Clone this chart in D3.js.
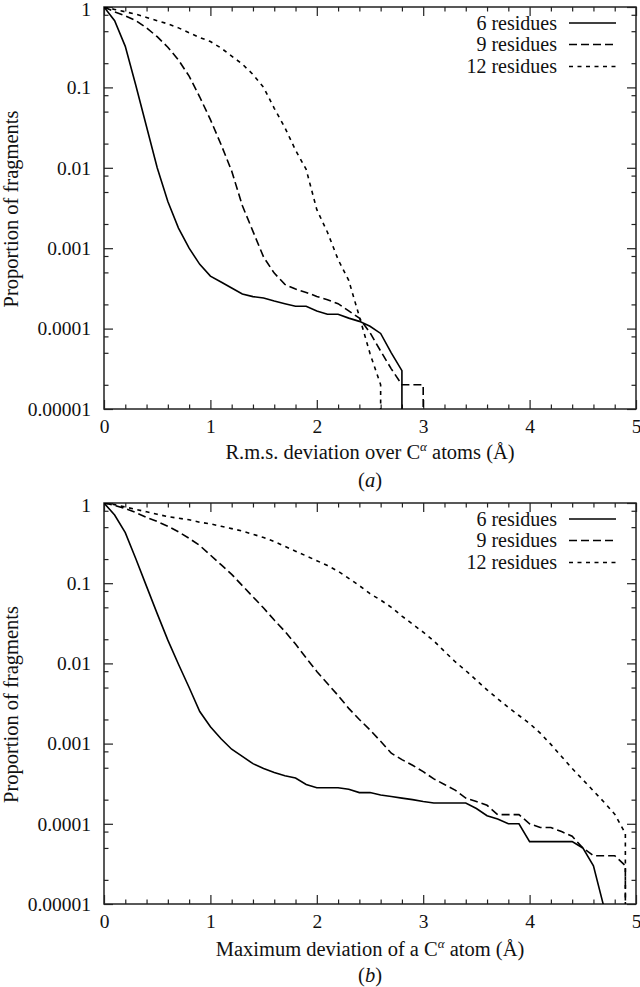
<!DOCTYPE html>
<html>
<head>
<meta charset="utf-8">
<script src="https://cdn.jsdelivr.net/npm/d3@7"></script>
<style>
  body { margin: 0; background: #fff; }
  text { font-family: "Liberation Serif", "Times New Roman", serif; fill: #111; }
</style>
</head>
<body>
<div id="chart"></div>
<script>
// x positions (Å) for each panel
const xTopA = [0, 0.1, 0.2, 0.3, 0.4, 0.5, 0.6, 0.7, 0.8, 0.9, 1.0, 1.1, 1.2, 1.3, 1.4, 1.5,
  1.6, 1.7, 1.8, 1.9, 2.0, 2.1, 2.2, 2.3, 2.4, 2.5, 2.6, 2.7, 2.8, 2.9, 3.0, 3.1];
const xTopB = [0, 0.1, 0.2, 0.3, 0.4, 0.5, 0.6, 0.7, 0.8, 0.9, 1.0, 1.1, 1.2, 1.3, 1.4, 1.5,
  1.6, 1.7, 1.8, 1.9, 2.0, 2.1, 2.2, 2.3, 2.4, 2.5, 2.6, 2.7, 2.8, 2.9, 3.0, 3.1, 3.2, 3.3,
  3.4, 3.5, 3.6, 3.7, 3.8, 3.9, 4.0, 4.1, 4.2, 4.3, 4.4, 4.5, 4.6, 4.7, 4.8, 4.9, 5.0];

// (a) r.m.s. deviation
const res6A = [1, 0.676, 0.324, 0.105, 0.0324, 0.0100, 0.0038, 0.00178, 0.00100, 0.00063,
  0.00045, 0.00038, 0.00032, 0.00027, 0.00025, 0.00024, 0.00022, 0.000204, 0.00019, 0.00019,
  0.000166, 0.000151, 0.000151, 0.000135, 0.000123, 0.000107, 0.000087, 0.00005, 0.00003, 0, 0, 0];
const res9A = [1, 0.871, 0.776, 0.676, 0.550, 0.427, 0.316, 0.219, 0.138, 0.0759,
  0.0398, 0.0195, 0.00912, 0.00339, 0.00162, 0.000776, 0.00049, 0.000355, 0.00031, 0.000282,
  0.000251, 0.000229, 0.000204, 0.000166, 0.000135, 0.000089, 0.0000525, 0.0000316, 0.00002,
  0.00002, 0.00002, 0];
const res12A = [1, 0.933, 0.871, 0.813, 0.741, 0.676, 0.617, 0.550, 0.479, 0.417,
  0.372, 0.309, 0.245, 0.195, 0.145, 0.100, 0.055, 0.0316, 0.0166, 0.00955,
  0.00302, 0.00158, 0.000724, 0.000398, 0.000141, 0.000049, 0.00002, 0, 0, 0, 0, 0];

// (b) maximum deviation
const res6B = [1, 0.708, 0.427, 0.200, 0.0912, 0.0417, 0.0195, 0.00977, 0.00501, 0.00251,
  0.00162, 0.00115, 0.000851, 0.000692, 0.000562, 0.00049, 0.000437, 0.000398, 0.000372, 0.000309,
  0.000282, 0.000282, 0.000282, 0.000269, 0.000245, 0.000245, 0.000229, 0.000219, 0.000209, 0.0002,
  0.00019, 0.000182, 0.000182, 0.000182, 0.000182, 0.000155, 0.000126, 0.000115, 0.0001, 0.0001,
  0.00006, 0.00006, 0.00006, 0.00006, 0.00006, 0.00005, 0.00003, 0.000009, 0, 0, 0];
const res9B = [1, 0.933, 0.851, 0.759, 0.661, 0.589, 0.513, 0.437, 0.363, 0.295,
  0.224, 0.170, 0.129, 0.0933, 0.0676, 0.049, 0.0347, 0.0251, 0.0174, 0.0117,
  0.00794, 0.00562, 0.00398, 0.00275, 0.002, 0.00148, 0.00107, 0.000759, 0.000631, 0.000537,
  0.000447, 0.000363, 0.000309, 0.000263, 0.000209, 0.00019, 0.00017, 0.00013, 0.00013, 0.00013,
  0.0001, 0.00009, 0.00009, 0.00008, 0.00007, 0.00005, 0.00004, 0.00004, 0.00004, 0.00003, 0];
const res12B = [1, 0.955, 0.891, 0.832, 0.776, 0.724, 0.676, 0.646, 0.617, 0.575,
  0.550, 0.513, 0.479, 0.447, 0.407, 0.372, 0.331, 0.288, 0.251, 0.219,
  0.191, 0.166, 0.141, 0.115, 0.0933, 0.0741, 0.0617, 0.0501, 0.0389, 0.0309,
  0.0245, 0.0191, 0.0141, 0.0105, 0.00813, 0.00617, 0.00468, 0.00363, 0.00282, 0.00224,
  0.00178, 0.00135, 0.000977, 0.000692, 0.00049, 0.000355, 0.000257, 0.000186, 0.000132, 0.0000759, 0];

const seriesNames = ["6 residues", "9 residues", "12 residues"];
const yTicks = [1, 0.1, 0.01, 0.001, 0.0001, 0.00001];
const yTickLabels = ["1", "0.1", "0.01", "0.001", "0.0001", "0.00001"];
const xTicks = [0, 1, 2, 3, 4, 5];

const panels = [
  { x: xTopA, series: [res6A, res9A, res12A], top: 7, bottom: 409,
    title: ["R.m.s. deviation over C", "α", " atoms (Å)"], tag: "a", titleY: 459, tagY: 487 },
  { x: xTopB, series: [res6B, res9B, res12B], top: 503, bottom: 904,
    title: ["Maximum deviation of a C", "α", " atom (Å)"], tag: "b", titleY: 956, tagY: 982 }
];

const dashes = [null, "8,4", "4,4.5"];
const left = 104, right = 636;
const tickFont = 19.5, labelFont = 20.5, legendFont = 20;

const svg = d3.select("#chart").append("svg")
  .attr("width", 640).attr("height", 987);

panels.forEach((p, pi) => {
  const x = d3.scaleLinear().domain([0, 5]).range([left, right]);
  const y = d3.scaleLog().domain([1e-5, 1]).range([p.bottom, p.top]);
  const g = svg.append("g");

  const minorX = d3.range(0, 5.01, 0.2).filter(v => Math.abs(v - Math.round(v)) > 1e-6);
  const minorY = [];
  yTicks.slice(0, -1).forEach(t => [0.8, 0.5, 0.2].forEach(m => minorY.push(t * m)));

  // ticks point inwards on all four sides
  const addTicks = (axis, tr) => {
    const a = g.append("g").attr("transform", tr).call(axis);
    a.select(".domain").remove();
    a.selectAll("line").attr("stroke", "#222").attr("stroke-width", 1.2);
    return a;
  };
  addTicks(d3.axisBottom(x).tickValues(minorX).tickSize(-4.5).tickFormat(""), `translate(0,${p.bottom})`);
  addTicks(d3.axisTop(x).tickValues(minorX).tickSize(-4.5).tickFormat(""), `translate(0,${p.top})`);
  addTicks(d3.axisLeft(y).tickValues(minorY).tickSize(-4.5).tickFormat(""), `translate(${left},0)`);
  addTicks(d3.axisRight(y).tickValues(minorY).tickSize(-4.5).tickFormat(""), `translate(${right},0)`);

  const xb = addTicks(d3.axisBottom(x).tickValues(xTicks).tickSize(-9).tickPadding(10)
    .tickFormat(d3.format("d")), `translate(0,${p.bottom})`);
  addTicks(d3.axisTop(x).tickValues(xTicks).tickSize(-9).tickFormat(""), `translate(0,${p.top})`);
  const yl = addTicks(d3.axisLeft(y).tickValues(yTicks).tickSize(-9).tickPadding(13)
    .tickFormat((d, i) => yTickLabels[i]), `translate(${left},0)`);
  addTicks(d3.axisRight(y).tickValues(yTicks).tickSize(-9).tickFormat(""), `translate(${right},0)`);
  [xb, yl].forEach(a => a.selectAll("text")
    .attr("font-family", "Liberation Serif").attr("font-size", tickFont).attr("fill", "#111"));
  // keep the top "1" label inside the page
  yl.selectAll("text").filter((d, i) => i === 0).attr("dy", "0.42em");

  // frame
  g.append("rect")
    .attr("x", left).attr("y", p.top)
    .attr("width", right - left).attr("height", p.bottom - p.top)
    .attr("fill", "none").attr("stroke", "#222").attr("stroke-width", 1.5);

  const clipId = "clip" + pi;
  svg.append("clipPath").attr("id", clipId).append("rect")
    .attr("x", left).attr("y", p.top).attr("width", right - left).attr("height", p.bottom - p.top);

  const line = d3.line().x(d => x(d[0])).y(d => y(d[1]));

  p.series.forEach((vals, si) => {
    // a zero count drops straight to the axis floor at the last non-zero x
    const pts = [];
    for (let i = 0; i < vals.length; i++) {
      if (vals[i] === 0) {
        pts.push([p.x[i - 1], 1e-5]);
        break;
      }
      pts.push([p.x[i], vals[i]]);
    }
    g.append("path")
      .datum(pts)
      .attr("clip-path", `url(#${clipId})`)
      .attr("d", line)
      .attr("fill", "none")
      .attr("stroke", "#000")
      .attr("stroke-width", 1.6)
      .attr("stroke-dasharray", dashes[si]);
  });

  // legend
  const rows = [16, 37.5, 59.5];
  seriesNames.forEach((name, si) => {
    const ly = p.top + rows[si];
    g.append("text")
      .attr("x", 557).attr("y", ly).attr("dy", "0.33em")
      .attr("text-anchor", "end").attr("font-size", legendFont)
      .text(name);
    g.append("line")
      .attr("x1", 569).attr("x2", 616).attr("y1", ly).attr("y2", ly)
      .attr("stroke", "#000").attr("stroke-width", 1.6)
      .attr("stroke-dasharray", dashes[si]);
  });

  // axis titles
  const t = g.append("text")
    .attr("x", (left + right) / 2).attr("y", p.titleY)
    .attr("text-anchor", "middle").attr("font-size", labelFont);
  t.append("tspan").text(p.title[0]);
  t.append("tspan").attr("dy", -8).attr("font-size", 13).attr("font-style", "italic").text(p.title[1]);
  t.append("tspan").attr("dy", 8).text(p.title[2]);

  const tag = g.append("text")
    .attr("x", (left + right) / 2).attr("y", p.tagY)
    .attr("text-anchor", "middle").attr("font-size", labelFont);
  tag.append("tspan").text("(");
  tag.append("tspan").attr("font-style", "italic").text(p.tag);
  tag.append("tspan").text(")");

  g.append("text")
    .attr("transform", `translate(17.5,${(p.top + p.bottom) / 2 + 1}) rotate(-90)`)
    .attr("text-anchor", "middle").attr("font-size", labelFont)
    .text("Proportion of fragments");
});
</script>
</body>
</html>
